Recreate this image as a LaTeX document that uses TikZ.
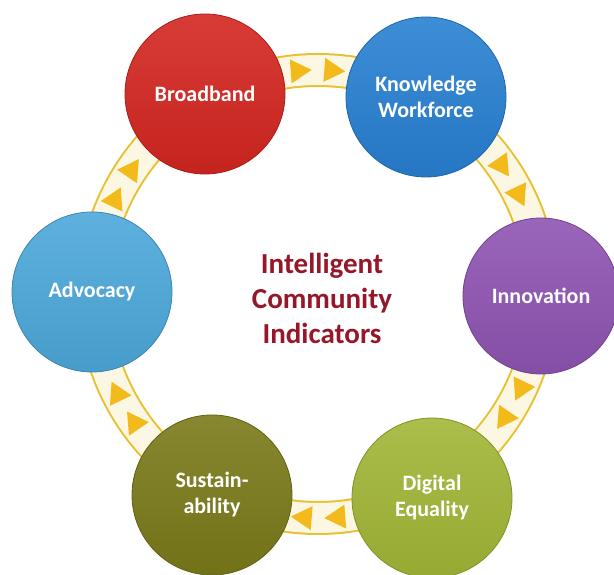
\documentclass[tikz,border=0pt]{standalone}
\usepackage{fontspec}
\setmainfont{Carlito}
\definecolor{cRed}{RGB}{212,38,32}
\definecolor{cBlue}{RGB}{40,128,210}
\definecolor{cPurple}{RGB}{142,84,178}
\definecolor{cGreen}{RGB}{162,182,54}
\definecolor{cOlive}{RGB}{122,122,26}
\definecolor{cLight}{RGB}{76,168,218}
\definecolor{ctrRed}{RGB}{150,22,42}
\definecolor{bandEdge}{RGB}{232,192,48}
\definecolor{bandFill}{RGB}{252,247,226}
\definecolor{triYellow}{RGB}{243,186,28}
\begin{document}
\begin{tikzpicture}[x=1pt,y=1pt,
  disc/.style={circle, minimum size=#1, inner sep=0pt, text=white,
    font=\bfseries\fontsize{22}{26}\selectfont, align=center},
  disc/.default=160pt,
  dcol/.style={top color=#1!90!white, bottom color=#1!93!black, draw=#1!80!black, line width=0.8pt},
  ring/.style={line width=#1},
  arrowtri/.style={fill=triYellow}]
\useasboundingbox (0,0) rectangle (614,575);
\coordinate (ctr) at (318,281);
% band ring
\draw[bandEdge, ring=34pt] (ctr) circle[radius=224];
\draw[bandFill, ring=30pt] (ctr) circle[radius=224];
% direction triangles (clockwise)
\foreach \m in {90,30,-30,-90,-150,150}{
  \foreach \d in {4.3,-4.3}{
    \pgfmathsetmacro\a{\m+\d}
    \begin{scope}[shift={(ctr)}, rotate=\a]
      \fill[arrowtri] (212,10.5) -- (236,10.5) -- (224,-10.5) -- cycle;
    \end{scope}
  }
}
% discs
\node[disc, dcol=cRed] (bb) at (205,481) {Broadband};
\node[disc, dcol=cBlue] (kw) at (426,478) {Knowledge\\Workforce};
\node[disc=156pt, dcol=cPurple] (in) at (541,279) {Innovation};
\node[disc, dcol=cGreen] (de) at (432,77) {Digital\\Equality};
\node[disc, dcol=cOlive] (su) at (212,80) {Sustain-\\ability};
\node[disc, dcol=cLight] (ad) at (92,283) {Advocacy};
% title
\node[text=ctrRed, font=\bfseries\fontsize{29}{35}\selectfont, align=center] (title) at (322,277) {Intelligent\\Community\\Indicators};
\end{tikzpicture}
\end{document}
